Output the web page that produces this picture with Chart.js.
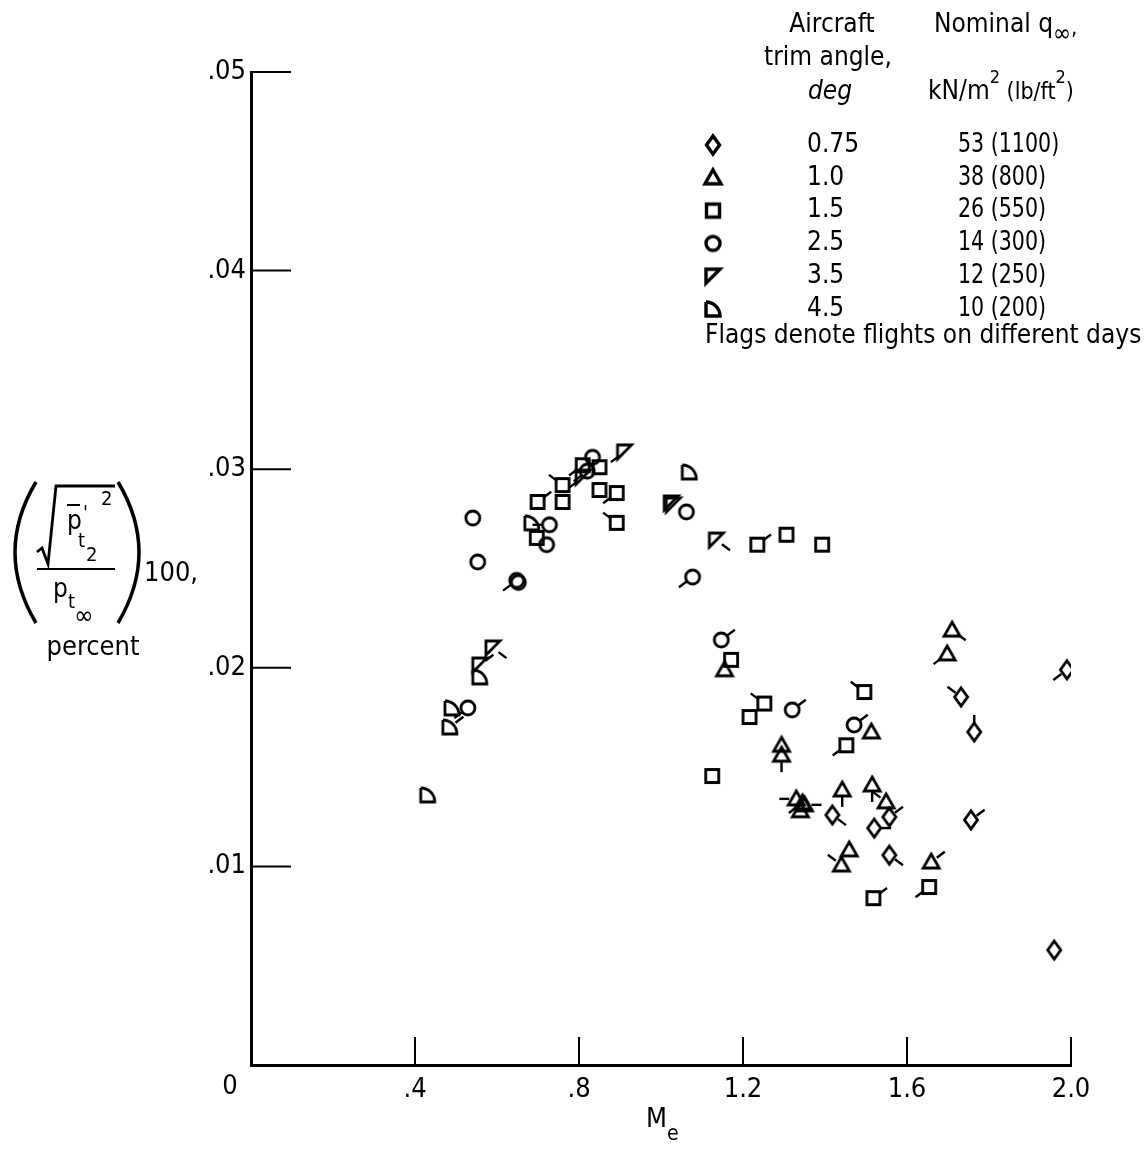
<!DOCTYPE html>
<html>
<head>
<meta charset="utf-8">
<script src="https://cdn.jsdelivr.net/npm/chart.js@4/dist/chart.umd.min.js"></script>
<style>
  body { margin: 0; background: #fff; }
  canvas { display: block; }
</style>
</head>
<body>
<canvas id="chart" width="1146" height="1151"></canvas>
<script>
// data: Me (x) and rms pressure percent (y), flag = direction of the day flag
const diamondX = [1.99, 1.732, 1.764, 1.756, 1.959, 1.418, 1.557, 1.520, 1.557];
const diamondY = [0.0199, 0.01853, 0.01677, 0.01234, 0.00579, 0.01259, 0.01249, 0.01193, 0.01057];
const diamondFlag = ['SW', 'NW', 'N', 'NE', null, 'SE', 'NE', 'E', 'SE'];

const triangleX = [1.710, 1.698, 1.513, 1.442, 1.515, 1.549, 1.459, 1.440, 1.659, 1.294, 1.294, 1.33, 1.345, 1.35, 1.34, 1.155];
const triangleY = [0.0219, 0.0207, 0.01677, 0.01385, 0.0141, 0.01325, 0.01083, 0.01007, 0.01022, 0.0161, 0.0156, 0.0134, 0.0132, 0.0131, 0.0128, 0.0199];
const triangleFlag = ['SE', 'SW', null, 'S', 'S', 'NW', null, 'NW', 'NE', null, 'S', 'W', 'SW', 'E', null, null];

const squareX = [0.699, 0.760, 0.760, 0.809, 0.850, 0.850, 0.892, 0.892, 0.697, 1.235, 1.306, 1.393, 1.171, 1.216, 1.252, 1.496, 1.452, 1.125, 1.518, 1.654];
const squareY = [0.02835, 0.0292, 0.02835, 0.0302, 0.0301, 0.02895, 0.0288, 0.0273, 0.02654, 0.0262, 0.0267, 0.0262, 0.0204, 0.01752, 0.0182, 0.01878, 0.0161, 0.01455, 0.0084, 0.00896];
const squareFlag = ['NE', 'NW', null, 'SW', null, null, 'SW', 'NW', null, 'NE', null, null, null, null, 'NW', 'NW', 'SW', null, 'NE', 'SW'];

const circleX = [0.541, 0.553, 0.648, 0.652, 0.728, 0.721, 0.833, 0.82, 1.062, 1.077, 1.147, 1.320, 1.471, 0.529];
const circleY = [0.02754, 0.02533, 0.0244, 0.0243, 0.0272, 0.0262, 0.0306, 0.0299, 0.02785, 0.02457, 0.0214, 0.01788, 0.01712, 0.01798];
const circleFlag = [null, null, 'SW', null, 'W', null, null, 'SW', null, 'SW', 'NE', 'NE', 'NE', 'SW'];

const wedgeX = [0.911, 1.025, 1.03, 1.135, 0.590, 0.558, 0.81];
const wedgeY = [0.03087, 0.0283, 0.0282, 0.02643, 0.021, 0.02014, 0.0296];
const wedgeFlag = ['SW', null, null, 'SE', 'SE', 'NE', 'SW'];

const quarterX = [0.558, 0.490, 0.485, 0.431, 0.685, 1.069];
const quarterY = [0.01954, 0.01798, 0.01702, 0.0136, 0.0273, 0.02986];
const quarterFlag = [null, null, 'NE', null, null, null];

const trimAngles = ['0.75', '1.0', '1.5', '2.5', '3.5', '4.5'];
const nominalQ = ['53 (1100)', '38 (800)', '26 (550)', '14 (300)', '12 (250)', '10 (200)'];

const xTickLabels = ['0', '.4', '.8', '1.2', '1.6', '2.0'];
const yTickLabels = ['', '.01', '.02', '.03', '.04', '.05'];

const FONT = "'Liberation Sans Narrow', 'DejaVu Sans Condensed', sans-serif";

// symbol images used as point styles
function makeSymbol(kind, lw) {
  const c = document.createElement('canvas');
  c.width = 26; c.height = 26;
  const g = c.getContext('2d');
  g.strokeStyle = '#000';
  g.lineWidth = lw;
  g.lineJoin = 'miter';
  g.beginPath();
  if (kind === 'diamond') {
    g.moveTo(13, 4); g.lineTo(19.5, 13); g.lineTo(13, 22); g.lineTo(6.5, 13); g.closePath();
  } else if (kind === 'triangle') {
    g.moveTo(13, 5); g.lineTo(21, 19); g.lineTo(5, 19); g.closePath();
  } else if (kind === 'square') {
    g.rect(6.5, 6.5, 13, 13);
  } else if (kind === 'circle') {
    g.arc(13, 13, 7, 0, Math.PI * 2);
  } else if (kind === 'wedge') {
    g.moveTo(6, 6); g.lineTo(20, 6); g.lineTo(6, 20); g.closePath();
  } else if (kind === 'quarter') {
    g.moveTo(6, 6); g.lineTo(6, 20); g.lineTo(20, 20);
    g.arc(6, 20, 14, 0, -Math.PI / 2, true);
  }
  g.stroke();
  return c;
}

const kinds = ['diamond', 'triangle', 'square', 'circle', 'wedge', 'quarter'];
const symbols = {};
const legendSymbols = [];
kinds.forEach(k => {
  symbols[k] = makeSymbol(k, 2.8);
  legendSymbols.push(makeSymbol(k, 3.4));
});

function pts(xs, ys) {
  return xs.map((x, i) => ({ x: x, y: ys[i] }));
}

function series(label, xs, ys, flags, sym) {
  return {
    label: label,
    data: pts(xs, ys),
    flags: flags,
    pointStyle: symbols[sym],
    pointRadius: 7,
    showLine: false
  };
}

const flagDir = {
  N: [0, -1], S: [0, 1], E: [1, 0], W: [-1, 0],
  NE: [0.8, -0.6], NW: [-0.8, -0.6], SE: [0.8, 0.6], SW: [-0.8, 0.6]
};

// write a run of text pieces left to right: [text, fontSize, dy, italic]
function textRun(ctx, x, y, parts) {
  parts.forEach(p => {
    ctx.font = (p[3] ? 'italic ' : '') + p[1] + 'px ' + FONT;
    ctx.fillText(p[0], x, y + (p[2] || 0));
    x += ctx.measureText(p[0]).width;
  });
}

// draws the day flags, the inward ticks, the legend block and the axis titles
const decorations = {
  id: 'decorations',
  afterDatasetsDraw(chart) {
    const ctx = chart.ctx;
    ctx.save();
    ctx.strokeStyle = '#000';
    ctx.lineWidth = 2.4;
    chart.data.datasets.forEach((ds, di) => {
      const meta = chart.getDatasetMeta(di);
      meta.data.forEach((el, i) => {
        const f = ds.flags[i];
        if (!f) return;
        const d = flagDir[f];
        ctx.beginPath();
        ctx.moveTo(el.x + d[0] * 7, el.y + d[1] * 7);
        ctx.lineTo(el.x + d[0] * 17, el.y + d[1] * 17);
        ctx.stroke();
      });
    });
    ctx.restore();
  },
  afterDraw(chart) {
    const ctx = chart.ctx;
    const xs = chart.scales.x, ys = chart.scales.y;
    const area = chart.chartArea;
    ctx.save();
    ctx.strokeStyle = '#000';
    ctx.fillStyle = '#000';

    // inward ticks
    ctx.lineWidth = 2;
    ys.ticks.forEach(t => {
      if (t.value === 0) return;
      const y = ys.getPixelForValue(t.value);
      ctx.beginPath(); ctx.moveTo(area.left, y); ctx.lineTo(area.left + 40, y); ctx.stroke();
    });
    xs.ticks.forEach(t => {
      if (t.value === 0) return;
      const x = xs.getPixelForValue(t.value);
      ctx.beginPath(); ctx.moveTo(x, area.bottom); ctx.lineTo(x, area.bottom - 28); ctx.stroke();
    });

    // origin label
    ctx.font = '27px ' + FONT;
    ctx.textAlign = 'center';
    ctx.textBaseline = 'middle';
    ctx.fillText(xTickLabels[0], area.left - 21, area.bottom + 22);

    // x title M_e
    ctx.textAlign = 'left';
    textRun(ctx, 646, 1120, [['M', 27, 0], ['e', 21, 15]]);

    // legend headers
    ctx.textAlign = 'center';
    ctx.font = '26px ' + FONT;
    ctx.fillText('Aircraft', 832, 25);
    ctx.fillText('trim angle,', 828, 58);
    ctx.font = 'italic 26px ' + FONT;
    ctx.fillText('deg', 830, 92);
    ctx.textAlign = 'left';
    textRun(ctx, 934, 25, [['Nominal q', 26, 0], ['\u221e', 24, 10], [',', 22, 4]]);
    textRun(ctx, 928, 92, [['kN/m', 26, 0], ['2', 18, -14], [' (lb/ft', 23, 1], ['2', 18, -14], [')', 23, 1]]);

    // legend rows
    ctx.font = '26px ' + FONT;
    trimAngles.forEach((a, i) => {
      const y = 145 + i * 32.8;
      const s = legendSymbols[i];
      ctx.drawImage(s, 713 - s.width / 2, y - s.height / 2);
      ctx.fillText(a, 807, y);
      ctx.save();
      ctx.translate(958, y);
      ctx.scale(0.88, 1);
      ctx.fillText(nominalQ[i], 0, 0);
      ctx.restore();
    });
    ctx.fillText('Flags denote flights on different days', 705, 336);

    // y title
    ctx.lineWidth = 3.5;
    ctx.beginPath(); ctx.moveTo(36, 482); ctx.quadraticCurveTo(-6, 552, 36, 623); ctx.stroke();
    ctx.beginPath(); ctx.moveTo(118, 482); ctx.quadraticCurveTo(160, 552, 118, 623); ctx.stroke();
    ctx.lineWidth = 2.8;
    ctx.beginPath();
    ctx.moveTo(37, 552); ctx.lineTo(42, 548); ctx.lineTo(48, 564); ctx.lineTo(56, 486); ctx.lineTo(115, 486);
    ctx.stroke();
    ctx.lineWidth = 2;
    ctx.beginPath(); ctx.moveTo(37, 569); ctx.lineTo(115, 569); ctx.stroke();
    ctx.beginPath(); ctx.moveTo(67, 505); ctx.lineTo(80, 505); ctx.stroke();
    ctx.font = '26px ' + FONT;
    ctx.fillText('p', 67, 522);
    ctx.font = '20px ' + FONT;
    ctx.fillText("'", 83, 514);
    ctx.fillText('t', 78, 542);
    ctx.fillText('2', 86, 556);
    ctx.fillText('2', 101, 500);
    ctx.font = '26px ' + FONT;
    ctx.fillText('p', 53, 590);
    ctx.font = '20px ' + FONT;
    ctx.fillText('t', 68, 603);
    ctx.font = '26px ' + FONT;
    ctx.fillText('\u221e', 74, 617);
    ctx.font = '27px ' + FONT;
    ctx.fillText('100,', 144, 574);
    ctx.textAlign = 'center';
    ctx.fillText('percent', 93, 648);
    ctx.restore();
  }
};

new Chart(document.getElementById('chart'), {
  type: 'scatter',
  data: {
    datasets: [
      series('0.75', diamondX, diamondY, diamondFlag, 'diamond'),
      series('1.0', triangleX, triangleY, triangleFlag, 'triangle'),
      series('1.5', squareX, squareY, squareFlag, 'square'),
      series('2.5', circleX, circleY, circleFlag, 'circle'),
      series('3.5', wedgeX, wedgeY, wedgeFlag, 'wedge'),
      series('4.5', quarterX, quarterY, quarterFlag, 'quarter')
    ]
  },
  options: {
    responsive: false,
    animation: false,
    layout: { padding: { top: 72, right: 75, bottom: 0, left: 0 } },
    plugins: {
      legend: { display: false },
      tooltip: { enabled: false }
    },
    scales: {
      x: {
        type: 'linear',
        min: 0,
        max: 2.0,
        afterFit: s => { s.height = 86; },
        grid: { display: false, drawTicks: false },
        border: { display: true, color: '#000', width: 3 },
        ticks: {
          stepSize: 0.4,
          color: '#000',
          padding: 9,
          maxRotation: 0,
          font: { family: FONT, size: 27 },
          callback: (v, i) => (i === 0 ? '' : xTickLabels[i])
        }
      },
      y: {
        type: 'linear',
        min: 0,
        max: 0.05,
        afterFit: s => { s.width = 251; },
        grid: { display: false, drawTicks: false },
        border: { display: true, color: '#000', width: 3 },
        ticks: {
          stepSize: 0.01,
          color: '#000',
          padding: 5,
          font: { family: FONT, size: 27 },
          callback: (v, i) => yTickLabels[i]
        }
      }
    }
  },
  plugins: [decorations]
});
</script>
</body>
</html>
